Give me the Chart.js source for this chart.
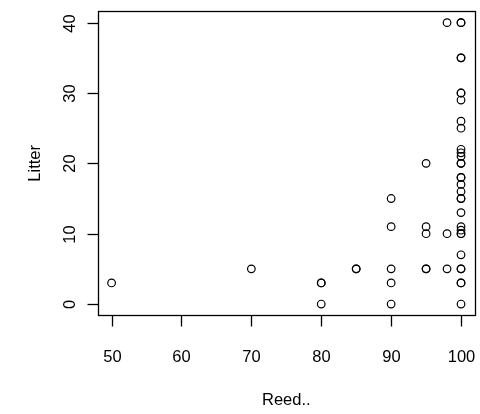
<!DOCTYPE html>
<html>
<head>
<meta charset="utf-8">
<script src="https://cdn.jsdelivr.net/npm/chart.js@4/dist/chart.umd.min.js"></script>
<style>
html,body{margin:0;padding:0;background:#fff;}
canvas{display:block;}
</style>
</head>
<body>
<canvas id="c" width="480" height="414"></canvas>
<script>
// Data
const reed = [50, 70, 80, 80, 80, 85, 85, 90, 90, 90, 90, 90, 95, 95, 95, 95, 95, 98, 98, 98,
  100, 100, 100, 100, 100, 100, 100, 100, 100, 100, 100, 100, 100, 100, 100, 100, 100, 100,
  100, 100, 100, 100, 100, 100, 100, 100, 100, 100, 100, 100, 100];
const litter = [3, 5, 3, 3, 0, 5, 5, 15, 11, 5, 3, 0, 20, 11, 10, 5, 5, 40, 10, 5,
  40, 40, 35, 35, 30, 30, 29, 26, 25, 22, 21.5, 21, 20, 20, 18, 18, 17, 16, 15, 15,
  13, 11, 10.5, 10, 10, 7, 5, 5, 3, 3, 0, 0];
const xTicks = [50, 60, 70, 80, 90, 100];
const yTicks = [0, 10, 20, 30, 40];
const xTitle = "Reed..";
const yTitle = "Litter";

const points = reed.map((x, i) => ({x: x, y: litter[i]}));
const FONT = '16.5px "Liberation Sans", Arial, Helvetica, sans-serif';

const rAxes = {
  id: 'rAxes',
  afterDraw(chart) {
    const ctx = chart.ctx;
    const a = chart.chartArea;
    const xs = chart.scales.x, ys = chart.scales.y;
    ctx.save();
    ctx.strokeStyle = '#000';
    ctx.fillStyle = '#000';
    ctx.lineWidth = 1.3;
    // box
    ctx.strokeRect(Math.round(a.left) + 0.5, Math.round(a.top) + 0.5,
      Math.round(a.right - a.left), Math.round(a.bottom - a.top));
    ctx.font = FONT;
    // x ticks
    const bx = Math.round(a.bottom) + 0.5;
    ctx.textAlign = 'center';
    ctx.textBaseline = 'middle';
    xTicks.forEach(v => {
      const px = Math.round(xs.getPixelForValue(v)) + 0.5;
      ctx.beginPath(); ctx.moveTo(px, bx); ctx.lineTo(px, bx + 11); ctx.stroke();
      ctx.fillText(String(v), px, 357);
    });
    // y ticks
    const lx = Math.round(a.left) + 0.5;
    yTicks.forEach(v => {
      const py = Math.round(ys.getPixelForValue(v)) + 0.5;
      ctx.beginPath(); ctx.moveTo(lx, py); ctx.lineTo(lx - 11, py); ctx.stroke();
      ctx.save();
      ctx.translate(70, py);
      ctx.rotate(-Math.PI / 2);
      ctx.fillText(String(v), 0, 0);
      ctx.restore();
    });
    // titles
    ctx.fillText(xTitle, (a.left + a.right) / 2, 400);
    ctx.save();
    ctx.translate(35, (a.top + a.bottom) / 2);
    ctx.rotate(-Math.PI / 2);
    ctx.fillText(yTitle, 0, 0);
    ctx.restore();
    ctx.restore();
  }
};

new Chart(document.getElementById('c'), {
  type: 'scatter',
  data: {
    datasets: [{
      data: points,
      pointStyle: 'circle',
      pointRadius: 3.8,
      pointHoverRadius: 3.8,
      borderColor: '#000',
      backgroundColor: 'rgba(0,0,0,0)',
      borderWidth: 1.2
    }]
  },
  options: {
    responsive: false,
    animation: false,
    devicePixelRatio: 1,
    layout: {padding: {left: 97.6, right: 3.6, top: 11.4, bottom: 98.7}},
    plugins: {legend: {display: false}, tooltip: {enabled: false}},
    scales: {
      x: {type: 'linear', min: 48, max: 102, display: false},
      y: {type: 'linear', min: -1.6, max: 41.6, display: false}
    }
  },
  plugins: [rAxes]
});
</script>
</body>
</html>
